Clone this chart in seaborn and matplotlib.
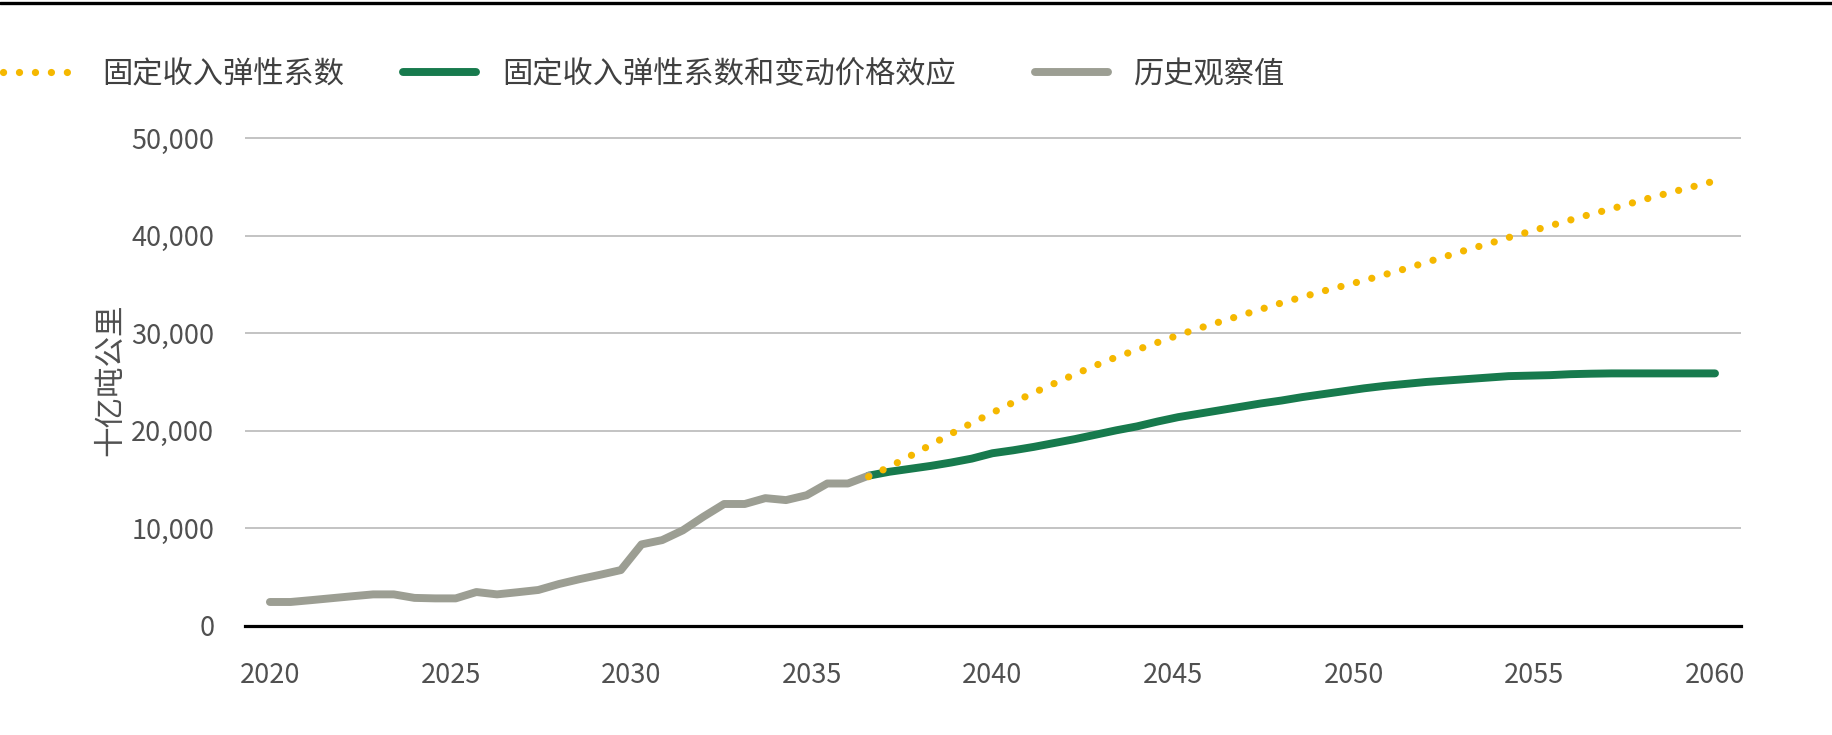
import numpy as np
import pandas as pd
import matplotlib
matplotlib.use("Agg")
import matplotlib.pyplot as plt
from matplotlib.lines import Line2D
import seaborn as sns

# ---- data (71 evenly spaced periods between 2020 and 2060) ----
hist_vals = [2460, 2460, 2650, 2850, 3050, 3240, 3240, 2880, 2830, 2830,
             3480, 3240, 3460, 3690, 4300, 4800, 5250, 5730, 8360, 8800,
             9800, 11200, 12500, 12500, 13100, 12900, 13400, 14600, 14600, 15400]
green_vals = [15400, 15800, 16100, 16400, 16750, 17150, 17700, 18000, 18350, 18750,
              19150, 19600, 20050, 20450, 20950, 21400, 21750, 22100, 22450, 22800,
              23100, 23450, 23750, 24050, 24350, 24600, 24800, 25000, 25150, 25300,
              25450, 25600, 25650, 25700, 25800, 25850, 25880, 25880, 25880, 25880,
              25880, 25880]
yellow_vals = [15300, 16300, 17400, 18550, 19700, 20800, 21850, 22900, 23900, 24850,
               25800, 26700, 27550, 28300, 29050, 29800, 30500, 31150, 31800, 32450,
               33100, 33700, 34300, 34850, 35400, 36000, 36600, 37250, 37900, 38550,
               39150, 39800, 40400, 41000, 41600, 42200, 42750, 43350, 43950, 44500,
               45050, 45600]
x_ticks = [2020, 2025, 2030, 2035, 2040, 2045, 2050, 2055, 2060]
y_ticks = [0, 10000, 20000, 30000, 40000, 50000]
labels = ["固定收入弹性系数", "固定收入弹性系数和变动价格效应", "历史观察值"]
y_label = "十亿吨公里"

periods = np.linspace(2020, 2060, 71)
df_hist = pd.DataFrame({"year": periods[:len(hist_vals)], "v": hist_vals})
df_green = pd.DataFrame({"year": periods[29:29 + len(green_vals)], "v": green_vals})
df_yellow = pd.DataFrame({"year": periods[29:29 + len(yellow_vals)], "v": yellow_vals})

sns.set_theme(style="white")
plt.rcParams['font.family'] = ['Liberation Sans Narrow', 'Noto Sans CJK SC', 'DejaVu Sans']

YELLOW = "#F5B800"
GREEN = "#177A4D"
GRAY = "#9C9E93"
TXT = "#505050"
CJK = ['Noto Sans CJK SC', 'DejaVu Sans']

fig = plt.figure(figsize=(18.33, 7.35), dpi=100)
ax = fig.add_axes([245 / 1833, 1 - 626 / 735, (1741 - 245) / 1833, (626 - 133.1) / 735])

LW = 5.7
DOT_LW = 5.2
sns.lineplot(data=df_green, x="year", y="v", ax=ax, color=GREEN, linewidth=LW,
             solid_capstyle="round", legend=False, zorder=3)
sns.lineplot(data=df_hist, x="year", y="v", ax=ax, color=GRAY, linewidth=LW,
             solid_capstyle="round", legend=False, zorder=4)
dot_style = (0, (0.01, 2.2))
sns.lineplot(data=df_yellow, x="year", y="v", ax=ax, color=YELLOW, linewidth=DOT_LW,
             linestyle=dot_style, dash_capstyle="round", legend=False, zorder=5)

ax.set_xlim(2019.31, 2060.72)
ax.set_ylim(0, 50500)
ax.set_xticks(x_ticks)
ax.set_xticklabels([str(t) for t in x_ticks])
ax.set_yticks(y_ticks)
ax.set_yticklabels([f"{t:,}" for t in y_ticks])
ax.tick_params(axis="both", length=0, labelsize=19.5, colors=TXT)
ax.tick_params(axis="y", pad=22)
ax.tick_params(axis="x", pad=26)
ax.yaxis.grid(True, color="#B3B3B3", lw=1.1)
ax.xaxis.grid(False)
ax.set_axisbelow(True)
for s in ["top", "right", "left"]:
    ax.spines[s].set_visible(False)
ax.spines["bottom"].set_color("black")
ax.spines["bottom"].set_linewidth(2.3)
ax.spines["bottom"].set_zorder(2)
ax.set_xlabel("")
ax.set_ylabel(y_label, fontsize=22, color=TXT, family=CJK, labelpad=4)

# top rule
fig.add_artist(Line2D([0, 1], [1 - 2.5 / 735, 1 - 2.5 / 735], transform=fig.transFigure,
                      color="black", lw=2.4))

# legend entries
handles = [
    Line2D([], [], color=YELLOW, lw=DOT_LW, linestyle=dot_style, dash_capstyle="round"),
    Line2D([], [], color=GREEN, lw=LW, solid_capstyle="round"),
    Line2D([], [], color=GRAY, lw=LW, solid_capstyle="round"),
]
xpos = [3, 403, 1035]
for h, lab, xp in zip(handles, labels, xpos):
    fig.legend([h], [lab], loc="center left", bbox_to_anchor=(xp / 1833, 1 - 74.5 / 735),
               frameon=False, borderpad=0, borderaxespad=0, handlelength=2.4,
               handletextpad=0.88, prop={"family": CJK, "size": 21.8},
               labelcolor="#404040")

fig.savefig("out.png", dpi=100)
